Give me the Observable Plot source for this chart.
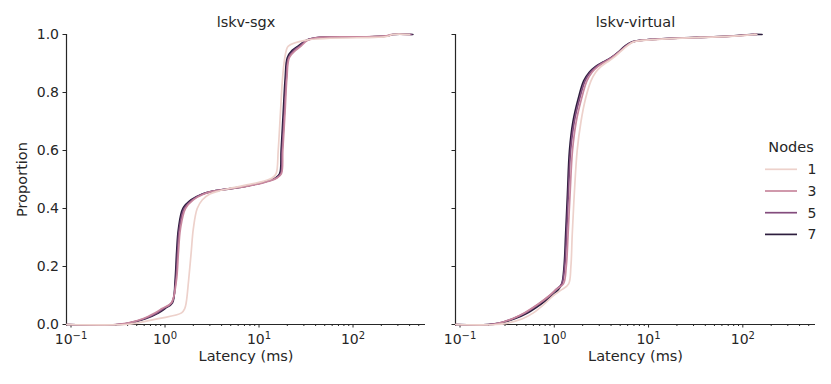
<!DOCTYPE html>
<html><head><meta charset="utf-8">
<script src="https://cdn.jsdelivr.net/npm/d3@7"></script>
<script src="https://cdn.jsdelivr.net/npm/@observablehq/plot@0.6"></script>
<style>
body{margin:0;background:#fff;font-family:"DejaVu Sans",sans-serif;}
#chart{position:relative;width:831px;height:384px;overflow:hidden;}
#chart > svg{position:absolute;top:0;}
</style></head><body><div id="chart"></div>
<script>
// ---- data ----
const facets = ["lskv-sgx", "lskv-virtual"];
const nodes = [1, 3, 5, 7];
const nodeColors = ["#edd1cb", "#c8879e", "#834c7d", "#2d1e3e"];
const xTicks = [0.1, 1, 10, 100];
const xTickBase = "10";
const xTickExponents = ["−1", "0", "1", "2"];
const yTicks = [0, 0.2, 0.4, 0.6, 0.8, 1.0];
const xLabel = "Latency (ms)";
const yLabel = "Proportion";
const legendTitle = "Nodes";

// proportion levels (ECDF) and latency (ms) at each level, lskv-sgx
const sgxLevels = [0, 0, 0.005, 0.02, 0.04, 0.055, 0.075, 0.15, 0.25, 0.33, 0.40, 0.43, 0.45, 0.46, 0.47, 0.48, 0.49, 0.505, 0.52, 0.6, 0.73, 0.85, 0.92, 0.945, 0.96, 0.98, 0.99, 0.992, 0.995, 1.0, 1.0];
const sgx1 = [0.09, 0.38, 0.5, 0.85, 1.5, 1.62, 1.68, 1.78, 1.9, 2.0, 2.2, 2.5, 3.0, 3.7, 5.0, 7.0, 10, 13.8, 15.2, 16.0, 16.9, 17.8, 18.8, 19.5, 20.5, 31, 170, 215, 240, 265, 400];
const sgx3 = [0.09, 0.30, 0.40, 0.58, 0.78, 0.93, 1.17, 1.32, 1.39, 1.46, 1.65, 2.0, 2.6, 3.3, 5.5, 8.3, 11.5, 15.5, 17.3, 17.9, 18.9, 19.8, 21.0, 24.5, 28, 33, 45, 140, 220, 255, 400];
const sgx5 = [0.09, 0.31, 0.41, 0.6, 0.82, 0.97, 1.18, 1.3, 1.36, 1.42, 1.6, 1.95, 2.5, 3.2, 5.3, 8.0, 11, 15.2, 17.0, 17.6, 18.6, 19.5, 20.6, 23.5, 27, 32, 44, 160, 235, 265, 420];
const sgx7 = [0.09, 0.32, 0.42, 0.62, 0.85, 1.0, 1.2, 1.28, 1.33, 1.39, 1.55, 1.9, 2.5, 3.3, 5.5, 8.0, 11, 15, 16.6, 17.2, 18.1, 19.0, 20.0, 22.5, 26, 32, 45, 150, 230, 265, 433];

// lskv-virtual
const virtLevels = [0, 0, 0.005, 0.02, 0.04, 0.07, 0.1, 0.12, 0.14, 0.2, 0.31, 0.45, 0.6, 0.7, 0.78, 0.84, 0.87, 0.89, 0.905, 0.92, 0.94, 0.96, 0.975, 0.982, 0.99, 0.995, 1.0, 1.0];
const virt1 = [0.09, 0.24, 0.32, 0.46, 0.6, 0.78, 0.98, 1.2, 1.42, 1.5, 1.55, 1.63, 1.75, 1.92, 2.15, 2.45, 2.75, 3.15, 3.65, 4.25, 5.0, 5.9, 7.0, 11, 36, 88, 130, 140];
const virt3 = [0.09, 0.21, 0.26, 0.36, 0.48, 0.67, 0.89, 1.04, 1.25, 1.34, 1.40, 1.47, 1.56, 1.71, 1.95, 2.22, 2.52, 2.92, 3.45, 4.1, 4.9, 5.8, 6.9, 10.5, 35, 85, 128, 140];
const virt5 = [0.09, 0.2, 0.26, 0.36, 0.49, 0.68, 0.9, 1.04, 1.2, 1.29, 1.35, 1.41, 1.49, 1.63, 1.86, 2.12, 2.42, 2.82, 3.35, 4.0, 4.85, 5.7, 6.8, 10, 34, 82, 125, 140];
const virt7 = [0.09, 0.2, 0.27, 0.38, 0.52, 0.72, 0.95, 1.1, 1.2, 1.27, 1.32, 1.38, 1.45, 1.58, 1.8, 2.05, 2.35, 2.75, 3.3, 4.0, 4.8, 5.6, 6.7, 10, 33, 80, 120, 160];

// ---- build ----
const xDomain = [Math.pow(10, -1.048), Math.pow(10, 2.771)];
const minorTicks = [];
for (let k = -2; k <= 3; k++) for (let m = 2; m <= 9; m++) {
  const v = m * Math.pow(10, k);
  if (v > xDomain[0] && v < xDomain[1]) minorTicks.push(v);
}
const expMap = new Map(xTicks.map((t, i) => [t, xTickExponents[i]]));
const ink = "#262626";
const FONT = "DejaVu Sans, sans-serif";

function rowsFor(levels, seriesByNode) {
  const rows = [];
  // seaborn draws hue levels in reverse order (darkest first)
  for (const n of [...nodes].reverse()) {
    seriesByNode[n].forEach((v, i) => rows.push({nodes: n, latency: v, p: levels[i]}));
  }
  return rows;
}

function panel(name, rows, o) {
  const marks = [
    Plot.axisX({ticks: minorTicks, tickSize: 2, tickFormat: () => "", label: null, stroke: ink}),
    Plot.axisX({ticks: xTicks, tickSize: 3.5, tickPadding: 6, tickFormat: d => xTickBase + "^" + expMap.get(d), fontSize: 14, label: null, stroke: ink, fill: ink}),
    Plot.axisY({ticks: yTicks, tickSize: 3.5, tickPadding: 4, fontSize: 14, stroke: ink, fill: ink,
      tickFormat: o.yLabels ? (d => d.toFixed(1)) : (() => ""), label: null}),
    Plot.ruleY([0], {stroke: ink, strokeWidth: 1.2}),
    Plot.ruleX([xDomain[0]], {stroke: ink, strokeWidth: 1.2}),
    Plot.line(rows, {x: "latency", y: "p", z: "nodes", stroke: "nodes", strokeWidth: 1.7, curve: "catmull-rom"}),
    Plot.text([name], {frameAnchor: "top", dy: -17.5, fontSize: 14.5, fill: ink}),
    Plot.text([xLabel], {frameAnchor: "bottom", dy: 36, fontSize: 14.5, fill: ink})
  ];
  if (o.yLabels) marks.push(Plot.text([yLabel], {frameAnchor: "left", textAnchor: "middle", lineAnchor: "middle", dx: -44, rotate: -90, fontSize: 14.5, fill: ink}));
  const svg = Plot.plot({
    width: o.width, height: 384,
    marginTop: 34, marginBottom: 60, marginLeft: o.ml, marginRight: o.mr,
    style: {fontFamily: FONT, fontSize: "14px", color: ink, background: "transparent", overflow: "visible"},
    x: {type: "log", domain: xDomain},
    y: {domain: [0, 1]},
    color: {type: "ordinal", domain: nodes, range: nodeColors},
    marks
  });
  // render "10^e" tick labels as base + superscript
  svg.querySelectorAll("text").forEach(t => {
    const s = t.textContent;
    if (s.startsWith(xTickBase + "^")) {
      const exp = s.slice(xTickBase.length + 1);
      t.textContent = xTickBase;
      const ts = document.createElementNS("http://www.w3.org/2000/svg", "tspan");
      ts.setAttribute("dy", "-0.5em");
      ts.setAttribute("font-size", "10px");
      ts.textContent = exp;
      t.appendChild(ts);
    }
  });
  return svg;
}

const chart = document.getElementById("chart");
const left = panel(facets[0], rowsFor(sgxLevels, {1: sgx1, 3: sgx3, 5: sgx5, 7: sgx7}), {width: 430, ml: 66, mr: 5, yLabels: true});
left.style.left = "0px";
const right = panel(facets[1], rowsFor(virtLevels, {1: virt1, 3: virt3, 5: virt5, 7: virt7}), {width: 401, ml: 25, mr: 16, yLabels: false});
right.style.left = "430px";
chart.appendChild(left);
chart.appendChild(right);

// legend
const lg = d3.select(chart).append("svg")
  .attr("width", 72).attr("height", 120)
  .style("position", "absolute").style("left", "760px").style("top", "130px")
  .style("font-family", FONT).style("overflow", "visible");
lg.append("text").attr("x", 31).attr("y", 17).attr("text-anchor", "middle")
  .attr("dominant-baseline", "central").attr("font-size", 14.5).attr("fill", ink).text(legendTitle);
nodes.forEach((n, i) => {
  const y = 39.3 + i * 21.7;
  lg.append("line").attr("x1", 5).attr("x2", 37).attr("y1", y).attr("y2", y)
    .attr("stroke", nodeColors[i]).attr("stroke-width", 1.7);
  lg.append("text").attr("x", 52).attr("y", y).attr("text-anchor", "middle")
    .attr("dominant-baseline", "central").attr("font-size", 14).attr("fill", ink).text(String(n));
});
</script></body></html>
